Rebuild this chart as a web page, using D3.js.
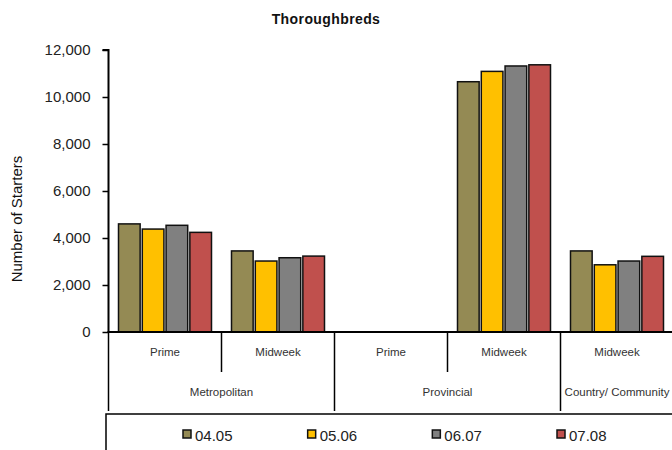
<!DOCTYPE html>
<html><head><meta charset="utf-8">
<script src="https://cdn.jsdelivr.net/npm/d3@7"></script>
<style>
body{margin:0;background:#fff;}
svg{display:block;font-family:"Liberation Sans",Arial,sans-serif;}
</style></head>
<body><svg id="c" width="672" height="450"></svg>
<script>
const categories = ["Prime","Midweek","Prime","Midweek","Midweek"];
const groups = ["Metropolitan","Metropolitan","Provincial","Provincial","Country/ Community"];
const seriesNames = ["04.05","05.06","06.07","07.08"];
const s0405 = [4600, 3450, 0, 10650, 3450];
const s0506 = [4380, 3020, 0, 11090, 2860];
const s0607 = [4540, 3160, 0, 11320, 3020];
const s0708 = [4240, 3230, 0, 11370, 3220];
const yTicks = [0, 2000, 4000, 6000, 8000, 10000, 12000];
const colors = ["#948A54","#FFC000","#808080","#C0504D"];
const seriesValues = [s0405, s0506, s0607, s0708];

const svg = d3.select("#c");
const x0 = 108.5, x1 = 673.5, yTop = 50, yBase = 332;
const idx = d3.range(categories.length);
const x = d3.scaleBand().domain(idx).range([x0, x1]);
const xi = d3.scaleBand().domain(seriesNames).range([10, x.bandwidth()-10]).paddingInner(0.09);
const y = d3.scaleLinear().domain([0, 12000]).range([yBase, yTop]);

// title
svg.append("text").attr("x", 326).attr("y", 24).attr("text-anchor","middle")
  .attr("font-size", 14).attr("font-weight","bold").attr("letter-spacing","0.4px").attr("fill","#111")
  .text("Thoroughbreds");

// y axis title
svg.append("text").attr("transform","translate(22,219) rotate(-90)").attr("text-anchor","middle")
  .attr("font-size", 15).attr("fill","#111").text("Number of Starters");

// bars
seriesNames.forEach((s, si) => {
  svg.append("g").selectAll("rect").data(idx).join("rect")
    .attr("x", i => x(i) + xi(s))
    .attr("y", i => y(seriesValues[si][i]))
    .attr("width", xi.bandwidth())
    .attr("height", i => yBase - y(seriesValues[si][i]))
    .attr("fill", colors[si])
    .attr("stroke", "#111").attr("stroke-width", 1.5)
    .attr("display", i => seriesValues[si][i] > 0 ? null : "none");
});

// y axis
const yAxis = d3.axisLeft(y).tickValues(yTicks).tickSize(6).tickPadding(12)
  .tickFormat(d3.format(","));
const gy = svg.append("g").attr("transform", `translate(${x0},0)`).call(yAxis);
gy.select(".domain").attr("stroke","#000").attr("stroke-width",2).attr("d", `M-6,${yTop}H0V${yBase}`);
gy.selectAll(".tick line").attr("stroke","#000").attr("stroke-width",1.5);
gy.selectAll(".tick text").attr("font-size",15).attr("fill","#222").attr("font-family","Liberation Sans, Arial, sans-serif");

// x axis line
svg.append("line").attr("x1", x0-1).attr("x2", 672).attr("y1", yBase).attr("y2", yBase)
  .attr("stroke","#000").attr("stroke-width",2);

// separators
idx.forEach(i => {
  const isGroupStart = i === 0 || groups[i] !== groups[i-1];
  svg.append("line").attr("x1", x(i)).attr("x2", x(i)).attr("y1", yBase).attr("y2", isGroupStart ? 411 : 372)
    .attr("stroke","#000").attr("stroke-width",1.5);
});

// category labels
svg.append("g").selectAll("text").data(idx).join("text")
  .attr("x", i => x(i) + x.bandwidth()/2).attr("y", 356)
  .attr("text-anchor","middle").attr("font-size", 11.5).attr("fill","#333")
  .text(i => categories[i]);

// group labels
const uniqueGroups = Array.from(new Set(groups));
svg.append("g").selectAll("text").data(uniqueGroups).join("text")
  .attr("x", g => {
    const members = idx.filter(i => groups[i] === g);
    return (x(members[0]) + x(members[members.length-1]) + x.bandwidth()) / 2;
  })
  .attr("y", 396).attr("text-anchor","middle").attr("font-size", 11.5).attr("fill","#333")
  .text(g => g);

// legend box
svg.append("rect").attr("x", 106).attr("y", 414).attr("width", 600).attr("height", 60)
  .attr("fill","none").attr("stroke","#000").attr("stroke-width",1.5);

const lx = d3.scalePoint().domain(seriesNames).range([183, 557]);
const lg = svg.append("g").selectAll("g").data(seriesNames).join("g")
  .attr("transform", s => `translate(${lx(s)},0)`);
lg.append("rect").attr("x", 0).attr("y", 430).attr("width", 8).attr("height", 8)
  .attr("fill", (s, i) => colors[i]).attr("stroke","#111").attr("stroke-width",1.5);
lg.append("text").attr("x", 12).attr("y", 440.5).attr("font-size", 15).attr("fill","#222").text(s => s);
</script></body></html>
